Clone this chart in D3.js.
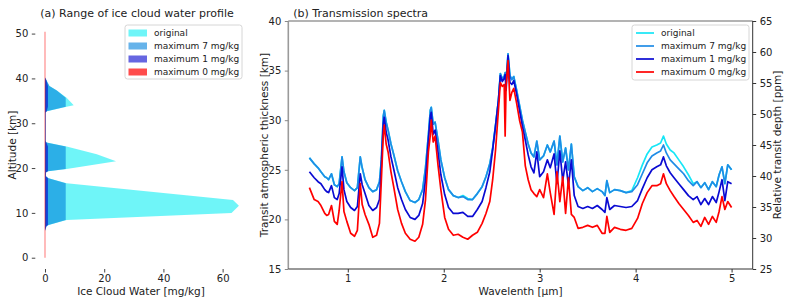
<!DOCTYPE html>
<html>
<head>
<meta charset="utf-8">
<script src="https://cdn.jsdelivr.net/npm/d3@7"></script>
<style>
  body { margin: 0; background: #fff; }
  text { font-family: "DejaVu Sans", sans-serif; fill: #222; }
</style>
</head>
<body>
<svg id="chart" width="789" height="305"></svg>
<script>
// ---- panel (a): ice cloud water profiles ----
const altitude = [0, 6.0, 7.0, 7.3, 8.4, 10.0, 11.6, 12.9, 16.6, 17.7,
  18.2, 19.0, 19.3, 19.8, 21.5, 23.1, 24.8, 25.7, 26.0, 30.3,
  32.4, 32.7, 33.7, 34.0, 35.7, 37.3, 38.3, 39.6, 40.2, 50.4];
const iceOriginal = [0, 0, 0.5, 1.2, 7.3, 63, 65.5, 63.5, 7.3, 1.2,
  0.3, 0.3, 1.0, 7.3, 24.0, 17.5, 7.3, 0.5, 0.2, 0.2,
  0.2, 0.6, 7.3, 9.7, 7.3, 4.0, 1.5, 0.5, 0, 0];
const iceMax7 = [0, 0, 0.5, 1.2, 7, 7, 7, 7, 7, 1.2,
  0.3, 0.3, 1.0, 7, 7, 7, 7, 0.5, 0.2, 0.2,
  0.2, 0.6, 7, 7, 7, 4.0, 1.5, 0.5, 0, 0];
const iceMax1 = [0, 0, 0.5, 1, 1, 1, 1, 1, 1, 1,
  0.3, 0.3, 1, 1, 1, 1, 1, 0.5, 0.2, 0.2,
  0.2, 0.6, 1, 1, 1, 1, 1, 0.5, 0, 0];
const iceMax0 = [0, 0, 0, 0, 0, 0, 0, 0, 0, 0,
  0, 0, 0, 0, 0, 0, 0, 0, 0, 0,
  0, 0, 0, 0, 0, 0, 0, 0, 0, 0];

const seriesNames = ['original', 'maximum 7 mg/kg', 'maximum 1 mg/kg', 'maximum 0 mg/kg'];
const iceTicks = [0, 20, 40, 60];
const altTicks = [0, 10, 20, 30, 40, 50];

// ---- panel (b): transmission spectra (km) ----
const wavelength = [
  0.60, 0.65, 0.69, 0.72, 0.76, 0.78, 0.80, 0.83, 0.86, 0.89,
  0.91, 0.94, 0.96, 0.99, 1.03, 1.07, 1.10, 1.13, 1.15, 1.18,
  1.22, 1.26, 1.30, 1.33, 1.35, 1.37, 1.38, 1.40, 1.42, 1.45,
  1.48, 1.52, 1.56, 1.60, 1.65, 1.70, 1.74, 1.78, 1.81, 1.84,
  1.86, 1.87, 1.89, 1.91, 1.94, 1.97, 2.01, 2.05, 2.10, 2.15,
  2.20, 2.25, 2.30, 2.35, 2.40, 2.44, 2.48, 2.51, 2.54, 2.57,
  2.59, 2.61, 2.63, 2.64, 2.65, 2.67, 2.69, 2.71, 2.73, 2.76,
  2.79, 2.82, 2.85, 2.88, 2.91, 2.94, 2.97, 3.00, 3.04, 3.08,
  3.11, 3.15, 3.18, 3.21, 3.24, 3.27, 3.30, 3.33, 3.36, 3.40,
  3.45, 3.50, 3.55, 3.60, 3.65, 3.68, 3.70, 3.73, 3.78, 3.84,
  3.90, 3.96, 4.02, 4.07, 4.12, 4.17, 4.22, 4.26, 4.29, 4.32,
  4.36, 4.40, 4.45, 4.50, 4.55, 4.60, 4.64, 4.68, 4.72, 4.76,
  4.80, 4.84, 4.87, 4.90, 4.93, 4.96, 5.00];

const specOriginal = [
  26.2, 25.6, 25.2, 24.8, 24.3, 24.2, 24.0, 24.6, 23.5, 23.3,
  23.6, 26.3, 24.8, 23.7, 23.2, 22.9, 23.2, 26.3, 25.2, 24.0,
  23.2, 22.8, 23.0, 23.8, 26.0, 30.4, 31.0, 29.8, 29.0, 27.6,
  26.5, 24.9, 23.8, 22.8, 21.9, 21.7, 22.0, 23.0, 25.2, 28.5,
  31.0, 31.3, 29.6, 29.8, 28.0, 26.0, 24.2, 23.0, 22.4, 22.2,
  22.4, 22.1, 22.0, 22.6, 23.3, 24.3, 25.6, 27.2, 29.5, 32.0,
  34.7, 34.2, 34.4, 34.8, 34.0, 36.7, 34.5, 34.1, 34.4, 33.0,
  31.5, 30.0, 28.8, 27.6, 26.7, 26.3, 27.9, 26.0, 26.4, 27.5,
  26.8, 27.9, 25.5, 28.4, 25.8, 27.2, 25.0, 27.6, 24.3, 23.3,
  22.9, 23.2, 22.8, 23.1, 22.8, 22.4, 23.9, 22.7, 23.0, 22.9,
  22.7, 22.9, 24.2, 25.5, 26.6, 27.3, 27.5, 27.7, 28.4, 27.6,
  27.0, 26.7, 26.0, 25.3, 24.5, 23.6, 23.8, 23.2, 23.7, 23.0,
  23.8, 23.3, 24.5, 25.3, 23.6, 25.5, 25.0];

const specMax7 = [
  26.2, 25.6, 25.2, 24.8, 24.3, 24.2, 24.0, 24.6, 23.5, 23.3,
  23.6, 26.3, 24.8, 23.7, 23.2, 22.9, 23.2, 26.3, 25.2, 24.0,
  23.2, 22.8, 23.0, 23.8, 26.0, 30.4, 31.0, 29.8, 29.0, 27.6,
  26.5, 24.9, 23.8, 22.8, 21.9, 21.7, 22.0, 23.0, 25.2, 28.5,
  31.0, 31.3, 29.6, 29.8, 28.0, 26.0, 24.2, 23.0, 22.4, 22.2,
  22.3, 22.0, 22.0, 22.6, 23.3, 24.3, 25.6, 27.2, 29.5, 32.0,
  34.7, 34.2, 34.4, 34.8, 34.0, 36.7, 34.5, 34.1, 34.4, 33.0,
  31.5, 30.0, 28.8, 27.6, 26.7, 26.3, 27.9, 26.0, 26.4, 27.5,
  26.8, 27.9, 25.5, 28.4, 25.8, 27.2, 25.0, 27.6, 24.3, 23.3,
  22.9, 23.2, 22.8, 23.1, 22.8, 22.4, 23.9, 22.7, 23.0, 22.9,
  22.7, 22.8, 23.5, 24.6, 25.7, 26.4, 26.7, 26.9, 27.5, 26.7,
  26.0, 25.6, 25.1, 24.6, 23.9, 23.4, 23.8, 23.2, 23.7, 23.0,
  23.8, 23.3, 24.5, 25.3, 23.6, 25.5, 25.0];

const specMax1 = [
  24.8, 24.2, 23.8, 23.6, 23.0, 22.8, 22.7, 23.4, 22.2, 22.0,
  22.6, 25.3, 23.0, 21.8, 21.2, 20.9, 21.3, 24.6, 23.5, 22.6,
  21.4, 20.9, 21.2, 22.0, 25.5, 29.6, 30.3, 28.8, 28.0, 26.3,
  25.0, 23.2, 22.0, 21.0, 20.2, 20.0, 20.4, 21.6, 24.0, 28.0,
  30.4, 30.8, 28.6, 29.0, 26.8, 24.5, 22.5, 21.2, 20.6, 20.6,
  20.7, 20.3, 20.3, 21.0, 21.8, 23.2, 24.8, 27.0, 29.4, 32.0,
  34.5, 33.9, 34.2, 34.6, 33.0, 36.5, 33.8, 33.6, 34.0, 32.6,
  31.0, 29.4, 28.0, 26.5, 25.3, 24.7, 26.8, 24.3, 24.8, 26.0,
  25.2, 26.6, 23.6, 26.9, 23.9, 25.8, 23.4, 26.0, 22.4, 21.3,
  21.1, 21.3, 21.1, 21.4, 21.0, 20.7, 22.2, 21.0, 21.4, 21.3,
  21.2, 21.3, 21.9, 23.1, 24.2, 25.0, 25.3, 25.5, 26.3, 25.4,
  24.7, 24.2, 23.6, 23.0, 22.4, 22.0, 22.3, 21.5, 22.1, 21.5,
  22.3, 21.7, 22.8, 24.0, 21.9, 23.8, 23.6];

const specMax0 = [
  23.2, 22.0, 21.8, 21.4, 20.6, 20.4, 20.5, 21.4, 19.8, 19.5,
  20.9, 23.8, 20.8, 19.8, 18.6, 18.3, 18.9, 23.6, 21.5, 20.5,
  19.5, 18.2, 18.4, 19.6, 24.0, 28.5, 29.5, 27.6, 26.8, 24.8,
  23.2, 21.0, 19.6, 18.6, 18.0, 17.8, 18.2, 19.5, 22.0, 26.8,
  28.5, 30.0, 27.8, 28.4, 25.5, 23.0, 20.2, 19.0, 18.4, 18.5,
  18.2, 18.0, 18.4, 18.7, 19.6, 20.6, 21.8, 24.0, 27.0, 31.0,
  33.8, 33.4, 33.6, 28.4, 33.5, 36.0, 32.0, 32.8, 33.2, 31.7,
  30.0, 28.8, 25.4, 24.0, 23.0, 22.6, 22.3, 23.0, 22.2, 24.6,
  22.7, 20.5, 24.8, 21.8, 24.3, 20.6, 24.2, 20.5, 20.2, 19.1,
  19.2, 19.4, 19.2, 19.4, 18.6, 18.6, 20.3, 18.7, 19.2, 19.0,
  18.9, 19.1, 20.1, 21.6, 22.7, 23.4, 23.4, 23.6, 24.6, 23.6,
  22.9, 22.3, 21.6, 21.0, 20.4, 19.7, 19.9, 19.3, 20.2, 19.5,
  20.3, 19.7, 20.8, 22.3, 21.0, 21.8, 21.2];

const wlTicks = [1, 2, 3, 4, 5];
const kmTicks = [15, 20, 25, 30, 35, 40];
const ppmTicks = [25, 30, 35, 40, 45, 50, 55, 60, 65];

const fillColors = ['rgb(15,238,243)', 'rgb(0,128,220)', 'rgb(0,0,205)', 'rgb(255,0,0)'];
const fillOpacity = [0.6, 0.6, 0.6, 0.7];
const lineColors = ['#16e6f6', '#1f8ce6', '#0a0ad2', '#ff0000'];

const svg = d3.select('#chart');

const styleAxis = (g, color) => {
  g.selectAll('.tick line').attr('stroke', color);
  g.selectAll('.tick text').attr('font-size', 10).attr('fill', '#222');
};

// ================= panel (a) =================
const xIce = d3.scaleLinear().domain([-3.275, 68.775]).range([35.3, 248.6]);
const yAlt = d3.scaleLinear().domain([-2.52, 52.92]).range([269, 20.5]);

const profiles = [iceOriginal, iceMax7, iceMax1];
const iceArea = vals => d3.area()
  .x0(xIce(0))
  .x1((d, i) => xIce(vals[i]))
  .y(d => yAlt(d))(altitude);

profiles.forEach((vals, k) => {
  svg.append('path')
    .attr('d', iceArea(vals))
    .attr('fill', fillColors[k])
    .attr('fill-opacity', fillOpacity[k]);
});

// zero-width profile shows only as its edge
svg.append('path')
  .attr('d', d3.line().x((d, i) => xIce(iceMax0[i])).y(d => yAlt(d))(altitude))
  .attr('fill', 'none')
  .attr('stroke', fillColors[3])
  .attr('stroke-opacity', 0.45)
  .attr('stroke-width', 1.2);

svg.append('g')
  .attr('transform', `translate(0,269)`)
  .call(d3.axisBottom(xIce).tickValues(iceTicks).tickFormat(d3.format('d')).tickSize(3.5).tickPadding(2.5).tickSizeOuter(0))
  .call(g => g.select('.domain').remove())
  .call(g => styleAxis(g, '#444'));

svg.append('g')
  .attr('transform', `translate(35.3,0)`)
  .call(d3.axisLeft(yAlt).tickValues(altTicks).tickFormat(d3.format('d')).tickSize(3.5).tickPadding(3.5).tickSizeOuter(0))
  .call(g => g.select('.domain').remove())
  .call(g => styleAxis(g, '#444'));

svg.append('text')
  .attr('x', 137).attr('y', 16.5)
  .attr('text-anchor', 'middle').attr('font-size', 11)
  .text('(a) Range of ice cloud water profile');

svg.append('text')
  .attr('x', 141).attr('y', 295)
  .attr('text-anchor', 'middle').attr('font-size', 10.5)
  .text('Ice Cloud Water [mg/kg]');

svg.append('text')
  .attr('transform', 'translate(15.5,145) rotate(-90)')
  .attr('text-anchor', 'middle').attr('font-size', 10.5)
  .text('Altitude [km]');

// legend (a)
const legA = svg.append('g').attr('transform', 'translate(125,25)');
legA.append('rect')
  .attr('width', 117).attr('height', 54).attr('rx', 2.5)
  .attr('fill', '#fff').attr('fill-opacity', 0.8)
  .attr('stroke', '#cccccc').attr('stroke-width', 0.8);
seriesNames.forEach((name, k) => {
  const row = legA.append('g').attr('transform', `translate(0,${8 + k * 13})`);
  row.append('rect')
    .attr('x', 3.5).attr('y', -3.5).attr('width', 18.5).attr('height', 7)
    .attr('fill', fillColors[k]).attr('fill-opacity', fillOpacity[k]);
  row.append('text')
    .attr('x', 29).attr('y', 3.4).attr('font-size', 9)
    .text(name);
});

// ================= panel (b) =================
const B = { left: 288.3, right: 752.7, top: 21, bottom: 269 };
const xWl = d3.scaleLinear().domain([0.38, 5.22]).range([B.left, B.right]);
const yKm = d3.scaleLinear().domain([15, 40]).range([B.bottom, B.top]);
const yPpm = d3.scaleLinear().domain([25, 65]).range([B.bottom, B.top]);

const spectra = [specOriginal, specMax7, specMax1, specMax0];
spectra.forEach((vals, k) => {
  const line = d3.line()
    .x(d => xWl(d))
    .y((d, i) => yKm(vals[i]));
  svg.append('path')
    .attr('d', line(wavelength))
    .attr('fill', 'none')
    .attr('stroke', lineColors[k])
    .attr('stroke-width', 1.7)
    .attr('stroke-linejoin', 'round');
});

// frame: top/left light, bottom/right dark
svg.append('line').attr('x1', B.left).attr('x2', B.right).attr('y1', B.top).attr('y2', B.top)
  .attr('stroke', '#9a9a9a').attr('stroke-width', 1.6);
svg.append('line').attr('x1', B.left).attr('x2', B.left).attr('y1', B.top).attr('y2', B.bottom)
  .attr('stroke', '#9a9a9a').attr('stroke-width', 1.6);
svg.append('line').attr('x1', B.left).attr('x2', B.right).attr('y1', B.bottom).attr('y2', B.bottom)
  .attr('stroke', '#333').attr('stroke-width', 1);
svg.append('line').attr('x1', B.right).attr('x2', B.right).attr('y1', B.top).attr('y2', B.bottom)
  .attr('stroke', '#333').attr('stroke-width', 1);

svg.append('g')
  .attr('transform', `translate(0,${B.bottom})`)
  .call(d3.axisBottom(xWl).tickValues(wlTicks).tickFormat(d3.format('d')).tickSize(3.5).tickPadding(2.5).tickSizeOuter(0))
  .call(g => g.select('.domain').remove())
  .call(g => styleAxis(g, '#333'));

svg.append('g')
  .attr('transform', `translate(${B.left},0)`)
  .call(d3.axisLeft(yKm).tickValues(kmTicks).tickFormat(d3.format('d')).tickSize(3.5).tickPadding(3.5).tickSizeOuter(0))
  .call(g => g.select('.domain').remove())
  .call(g => styleAxis(g, '#888'));

svg.append('g')
  .attr('transform', `translate(${B.right},0)`)
  .call(d3.axisRight(yPpm).tickValues(ppmTicks).tickFormat(d3.format('d')).tickSize(3.5).tickPadding(3.5).tickSizeOuter(0))
  .call(g => g.select('.domain').remove())
  .call(g => styleAxis(g, '#333'));

svg.append('text')
  .attr('x', B.left + 5).attr('y', 16.5)
  .attr('font-size', 11)
  .text('(b) Transmission spectra');

svg.append('text')
  .attr('x', (B.left + B.right) / 2).attr('y', 295)
  .attr('text-anchor', 'middle').attr('font-size', 10.5)
  .text('Wavelenth [\u03bcm]');

svg.append('text')
  .attr('transform', `translate(268,145) rotate(-90)`)
  .attr('text-anchor', 'middle').attr('font-size', 10.5)
  .text('Transit atmospheric thickness [km]');

svg.append('text')
  .attr('transform', `translate(781,145) rotate(-90)`)
  .attr('text-anchor', 'middle').attr('font-size', 10.5)
  .text('Relative transit depth [ppm]');

// legend (b)
const legB = svg.append('g').attr('transform', 'translate(632,25)');
legB.append('rect')
  .attr('width', 117).attr('height', 55).attr('rx', 2.5)
  .attr('fill', '#fff').attr('fill-opacity', 0.8)
  .attr('stroke', '#cccccc').attr('stroke-width', 0.8);
seriesNames.forEach((name, k) => {
  const row = legB.append('g').attr('transform', `translate(0,${8 + k * 13})`);
  row.append('line')
    .attr('x1', 4).attr('x2', 22).attr('y1', 0).attr('y2', 0)
    .attr('stroke', lineColors[k]).attr('stroke-width', 1.7);
  row.append('text')
    .attr('x', 29).attr('y', 3.4).attr('font-size', 9)
    .text(name);
});
</script>
</body>
</html>
